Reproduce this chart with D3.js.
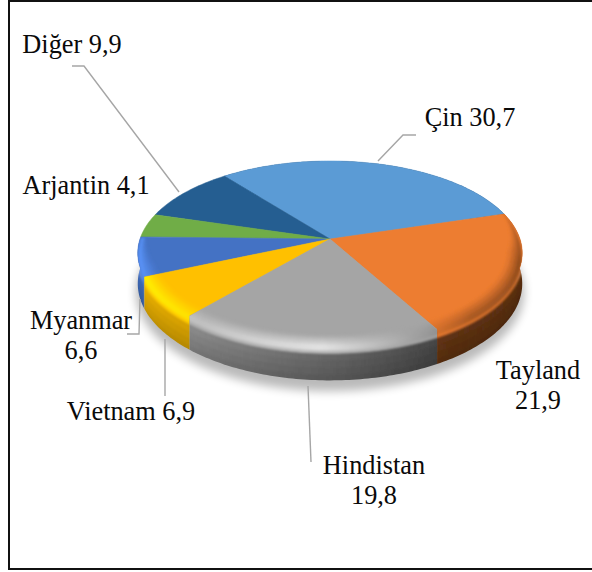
<!DOCTYPE html>
<html>
<head>
<meta charset="utf-8">
<title>Pirinc ihracati</title>
<script src="https://d3js.org/d3.v7.min.js"></script>
<style>
  html, body { margin: 0; padding: 0; background: #fff; overflow: hidden; }
  text { font-family: "Liberation Serif", serif; font-size: 26.3px; fill: #0a0a0a; }
</style>
</head>
<body>
<svg id="chart" width="592" height="572"></svg>
<script>
const countries = ["Çin", "Tayland", "Hindistan", "Vietnam", "Myanmar", "Arjantin", "Diğer"];
const shares = [30.7, 21.9, 19.8, 6.9, 6.6, 4.1, 9.9];
const sliceColors = ["#5b9bd5", "#ed7d31", "#a5a5a5", "#ffc000", "#4472c4", "#70ad47", "#255e91"];
const shareLabels = ["30,7", "21,9", "19,8", "6,9", "6,6", "4,1", "9,9"];

const svg = d3.select("#chart");

// chart frame, open on the right like the original crop
svg.append("rect").attr("x", 9).attr("y", 1).attr("width", 600).attr("height", 568)
  .attr("fill", "#fff").attr("stroke", "#111").attr("stroke-width", 2);

const defs = svg.append("defs");
function blurFilter(id, dev) {
  defs.append("filter").attr("id", id).attr("filterUnits", "userSpaceOnUse")
    .attr("x", 0).attr("y", 0).attr("width", 592).attr("height", 572)
    .append("feGaussianBlur").attr("stdDeviation", dev);
}
blurFilter("soft", 5);
blurFilter("smooth", 1.1);

// perspective tilt of the disc, centre of the pie ends up at (330, 239)
const cx = 330, cy = 239, radius = 190, depth = 89.9, persp = 0.152, wall = 30;
const toRad = Math.PI / 180;

const startDeg = -36.5;
const pie = d3.pie().sort(null).startAngle(startDeg * toRad).endAngle((startDeg + 360) * toRad);
const arcs = pie(shares);
const line = d3.line();

// the 3d view squeezes the angles a little, so the seams land where the original has them
const warp = d3.scaleLinear()
  .domain([-36.5, 74, 152.8, 224.1, 272.7, 287.5, 323.5])
  .range([-38.5, 73, 150.5, 220.5, 271, 286, 321.5]);

function project(deg, r, h) {
  const a = warp(deg) * toRad;
  const px = Math.sin(a) * r, pz = -Math.cos(a) * r;
  const s = 1 / (1 - persp * pz);
  return [cx + radius * px * s, cy + depth * pz * s + h * s];
}

function degreesOf(d0, d1) {
  const n = Math.max(2, Math.ceil(d1 - d0));
  return d3.range(n + 1).map(i => d0 + (d1 - d0) * i / n);
}

// soft shadow under the disc
svg.append("path")
  .attr("d", line(d3.range(-36, 324, 4).map(d => project(d, 1.01, wall + 8))) + "Z")
  .attr("fill", "#000").attr("opacity", 0.27).attr("filter", "url(#soft)");

// lighting going round the disc in degrees, right side is darkest
const wallLight = d3.scaleLinear().domain([74, 150, 180, 221, 273]).range([0.36, 0.41, 0.62, 0.86, 1]).clamp(true);
const rimLight = d3.scaleLinear().domain([74, 105, 140, 165, 185, 221, 273]).range([0.85, 0.62, 0.72, 1.05, 1.32, 1.14, 1.25]).clamp(true);
// where the flat top stops; the bevel only exists round the front
const flatEdge = d3.scaleLinear().domain([74, 100, 255, 272.7]).range([0.995, 0.925, 0.925, 0.97]).clamp(true);
// profile across the bevel from flat top (0) to the wall (1)
const bevelMix = d3.scaleLinear().domain([0, 0.6, 0.85, 1]).range([0, 1, 1, -0.4]);

function shade(color, k) {
  const c = d3.rgb(color);
  if (k <= 1) return d3.rgb(c.r * k, c.g * k, c.b * k).formatHex();
  const t = k - 1;
  return d3.rgb(Math.min(255, c.r * k + 30 * t), Math.min(255, c.g * k + 30 * t), Math.min(255, c.b * k + 30 * t)).formatHex();
}

const frontFrom = 74, frontTo = 272.8;

// back to front so nearer parts paint over farther ones
const drawOrder = arcs.slice().sort((p, q) => {
  const m = a => Math.cos((a.startAngle + a.endAngle) / 2);
  return m(q) - m(p);
});

const wallLayers = d3.range(0, 5).map(i => i / 5);
const bevelLayers = d3.range(0, 6).map(i => i / 6);

drawOrder.forEach(a => {
  const color = sliceColors[a.index];
  const start = a.startAngle / toRad, end = a.endAngle / toRad;
  const degs = degreesOf(start, end);
  const hasFront = end > frontFrom && start < frontTo;

  // clip to the exact outline of this slice, the rim meshes run past it and get blurred
  if (hasFront) {
    const wallDegs = degs.filter(d => d >= frontFrom - 0.01 && d <= frontTo);
    const clip = defs.append("clipPath").attr("id", `slice-${a.index}`);
    clip.append("path").attr("d", line([[cx, cy]].concat(degs.map(d => project(d, 1, 0)))) + "Z");
    clip.append("path").attr("d", line(wallDegs.map(d => project(d, 1, 0))
      .concat(wallDegs.slice().reverse().map(d => project(d, 1, wall)))) + "Z");

    const wallClip = svg.append("g").attr("clip-path", `url(#slice-${a.index})`);
    const wallGroup = wallClip.append("g").attr("filter", "url(#smooth)");
    d3.pairs(degreesOf(start - 3, end + 3)).forEach(([d0, d1]) => {
      const mid = (d0 + d1) / 2;
      wallLayers.forEach(u => {
        // wall darkens a bit towards the lower edge
        const k = wallLight(mid) * (1 - 0.22 * u);
        const h0 = u * wall, h1 = (u + 0.2) * wall + (u === 0.8 ? 5 : 0);
        const r = 1.015;
        wallGroup.append("path")
          .attr("d", line([project(d0, r, h0), project(d1, r, h0), project(d1, r, h1), project(d0, r, h1)]) + "Z")
          .attr("fill", shade(color, k)).attr("stroke", shade(color, k)).attr("stroke-width", 1);
      });
    });
  }

  // flat top of the slice
  svg.append("path")
    .attr("d", line([[cx, cy]].concat(degs.map(d => project(d, 1, 0)))) + "Z")
    .attr("fill", color).attr("stroke", color).attr("stroke-width", 0.5);

  if (hasFront) {
    const bevelClip = svg.append("g").attr("clip-path", `url(#slice-${a.index})`);
    const bevelGroup = bevelClip.append("g").attr("filter", "url(#smooth)");
    d3.pairs(degreesOf(Math.max(start - 3, frontFrom), Math.min(end + 3, frontTo))).forEach(([d0, d1]) => {
      const mid = (d0 + d1) / 2;
      bevelLayers.forEach(u => {
        const v = u + 1 / 6;
        const pt = (d, w) => {
          const e = flatEdge(d);
          const r = e + (1 - e) * Math.sin(w * Math.PI / 2);
          const h = ((1 - e) / 0.075) * 7 * (1 - Math.cos(w * Math.PI / 2));
          return project(d, r, h);
        };
        const m = bevelMix(u + 1 / 12);
        // blend flat colour -> rim light, then down into the wall colour
        const k = m >= 0 ? 1 + (rimLight(mid) - 1) * m
          : rimLight(mid) + (wallLight(mid) - rimLight(mid)) * Math.min(1, -m / 0.4);
        const fill = shade(color, k);
        bevelGroup.append("path")
          .attr("d", line([pt(d0, u), pt(d1, u), pt(d1, v), pt(d0, v)]) + "Z")
          .attr("fill", fill).attr("stroke", fill).attr("stroke-width", 0.8);
      });
    });
  }
});

// label text, placed by hand against the frame like the original
const labelLayout = [
  { lines: [`${countries[0]} ${shareLabels[0]}`], x: 470, y: 126 },
  { lines: [countries[1], shareLabels[1]], x: 538, y: 379 },
  { lines: [countries[2], shareLabels[2]], x: 374, y: 474 },
  { lines: [`${countries[3]} ${shareLabels[3]}`], x: 131, y: 420 },
  { lines: [countries[4], shareLabels[4]], x: 81, y: 329 },
  { lines: [`${countries[5]} ${shareLabels[5]}`], x: 86, y: 194 },
  { lines: [`${countries[6]} ${shareLabels[6]}`], x: 72, y: 53 }
];
labelLayout.forEach(l => {
  l.lines.forEach((t, i) => {
    svg.append("text").attr("x", l.x).attr("y", l.y + i * 30)
      .attr("text-anchor", "middle").text(t);
  });
});

// leader lines
const leaders = [
  [[72, 66], [84, 66], [179, 192]],
  [[378, 161], [403, 135], [416, 135]],
  [[140, 299], [139, 334], [127, 334]],
  [[165, 339], [165, 396]],
  [[308, 386], [311, 462]]
];
leaders.forEach(l => {
  svg.append("path").attr("d", line(l)).attr("fill", "none")
    .attr("stroke", "#a6a6a6").attr("stroke-width", 1.4);
});
</script>
</body>
</html>
